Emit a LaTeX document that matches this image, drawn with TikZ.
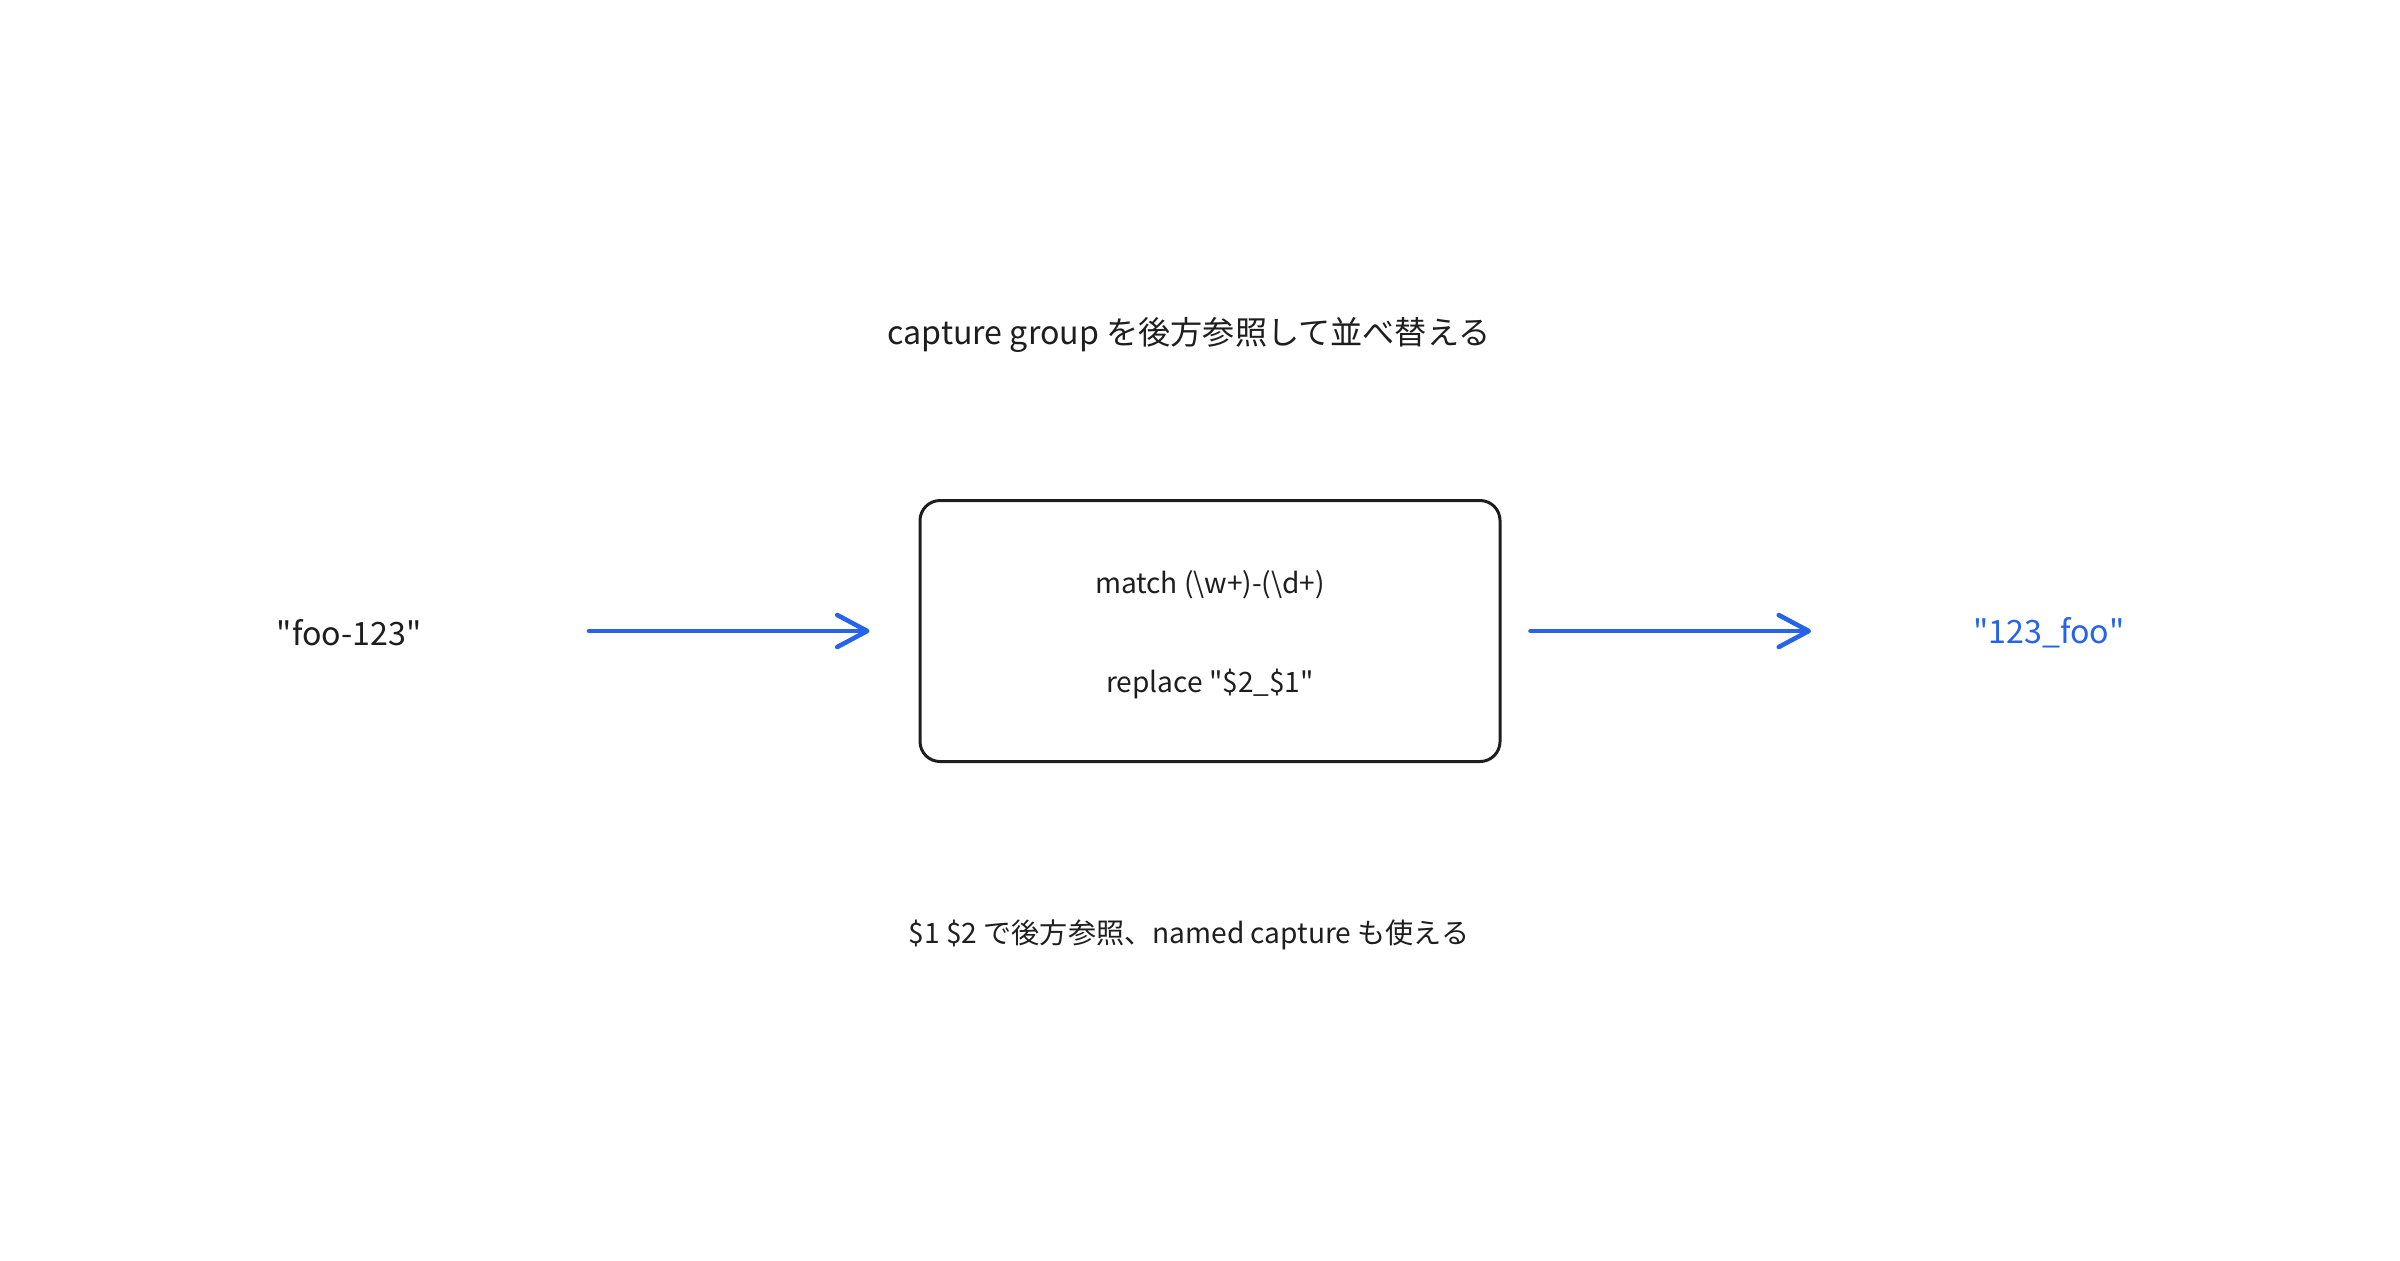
\documentclass[tikz,border=0pt]{standalone}
\usepackage{fontspec}
\setmainfont{Noto Sans CJK JP}
\usetikzlibrary{arrows.meta,positioning}
\definecolor{ink}{HTML}{1E1E1E}
\definecolor{flowblue}{HTML}{2563EB}

\begin{document}
\begin{tikzpicture}[
  txt/.style={inner sep=0pt,text=ink,font=\fontsize{9.15pt}{11pt}\selectfont},
  small/.style={inner sep=0pt,text=ink,font=\fontsize{8pt}{10pt}\selectfont},
  flow/.style={draw=flowblue,line width=1.3pt,line cap=round,-{Straight Barb[length=0.3cm,width=0.32cm,round]}}
]
\useasboundingbox (0,0) rectangle (24,-12.6);

\node [txt] (title) at (11.89,-3.35) {capture group を後方参照して並べ替える};

% regex step
\node [draw=ink,line width=0.85pt,rounded corners=0.2cm,minimum width=5.8cm,minimum height=2.61cm] (box) at (12.10,-6.31) {};
\node [small] (match) at ([yshift=0.46cm]box.center) {match (\textbackslash w+)-(\textbackslash d+)};
\node [small] (repl) at ([yshift=-0.53cm]box.center) {replace \textquotedbl\$2\_\$1\textquotedbl};

\node [txt] (src) at (3.49,-6.33) {\textquotedbl foo-123\textquotedbl};
\node [txt,text=flowblue] (dst) at (20.49,-6.33) {\textquotedbl 123\_foo\textquotedbl};

\draw [flow,shorten <=2.40cm,shorten >=0.49cm] (src.center |- box.west) -- (box.west);
\draw [flow,shorten <=0.29cm,shorten >=2.38cm] (box.east) -- (dst.center |- box.east);

\node [small] (note) at (11.89,-9.35) {\$1 \$2 で後方参照、named capture も使える};

\end{tikzpicture}
\end{document}
